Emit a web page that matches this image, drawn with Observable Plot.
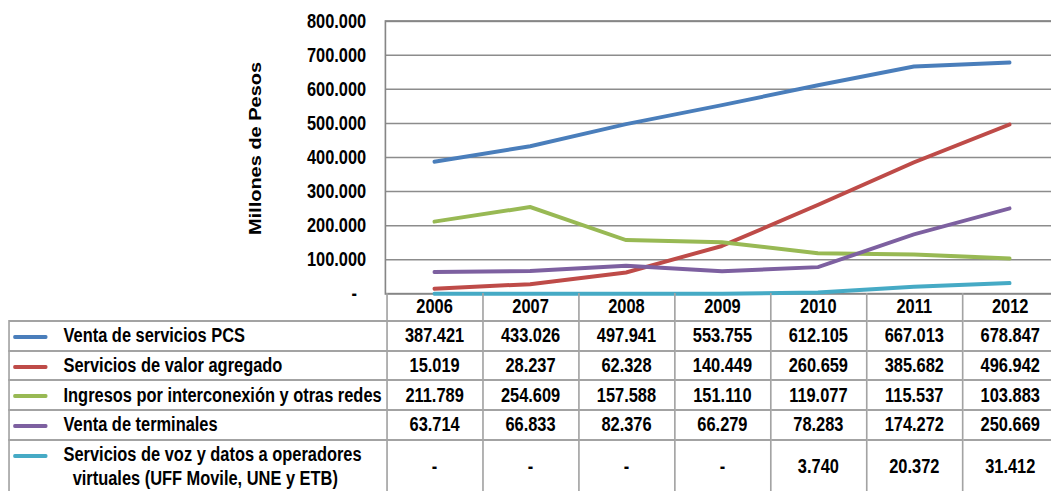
<!DOCTYPE html>
<html>
<head>
<meta charset="utf-8">
<script src="https://cdn.jsdelivr.net/npm/d3@7"></script>
<script src="https://cdn.jsdelivr.net/npm/@observablehq/plot@0.6"></script>
<style>
html, body { margin: 0; padding: 0; background: #fff; overflow: hidden; width: 1051px; height: 491px; }
#wrap { position: absolute; left: 0; top: 0; width: 1292px; height: 491px; transform: scaleX(0.82); transform-origin: 0 0;
  font-family: "Liberation Sans", Arial, sans-serif; font-weight: bold; font-size: 20px; color: #000; }
#chart { position: absolute; left: 0; top: 0; }
#tbl { position: absolute; top: 293px; border-collapse: collapse; table-layout: fixed; }
#tbl td { border: 2px solid #a3a3a3; padding: 0; text-align: center; vertical-align: middle; white-space: pre; line-height: 23.3px; }
#tbl tr.hdr td { border-top: none; height: 27px; }
#tbl tr.hdr td.blank { border-left: none; border-top: none; }
#tbl td.lab { text-align: left; position: relative; }
#tbl .sw { position: absolute; left: 4px; top: 13px; width: 42px; height: 4px; border-radius: 2px; }
</style>
</head>
<body>
<div id="wrap"><div id="chart"></div></div>
<script>
const years = ["2006", "2007", "2008", "2009", "2010", "2011", "2012"];
const seriesNames = [
  "Venta de servicios PCS",
  "Servicios de valor agregado",
  "Ingresos por interconexión y otras redes",
  "Venta de terminales",
  "Servicios de voz y datos a operadores\n  virtuales (UFF Movile, UNE y ETB)"
];
const ventaPCS = [387421, 433026, 497941, 553755, 612105, 667013, 678847];
const valorAgregado = [15019, 28237, 62328, 140449, 260659, 385682, 496942];
const interconexion = [211789, 254609, 157588, 151110, 119077, 115537, 103883];
const terminales = [63714, 66833, 82376, 66279, 78283, 174272, 250669];
const operadoresVirtuales = [0, 0, 0, 0, 3740, 20372, 31412];
const seriesColors = ["#4A7EBB", "#BE4B48", "#98B954", "#7D60A0", "#46AAC5"];
const yTicks = [0, 100000, 200000, 300000, 400000, 500000, 600000, 700000, 800000];
const yTitle = "Millones de Pesos";

const seriesValues = [ventaPCS, valorAgregado, interconexion, terminales, operadoresVirtuales];
const data = seriesNames.flatMap((s, i) => years.map((yr, j) => ({series: s, year: yr, value: seriesValues[i][j]})));

const locale = d3.formatLocale({decimal: ",", thousands: ".", grouping: [3], currency: ["$", ""]});
const fmtN = locale.format(",d");
const fmt = v => v === 0 ? "-" : fmtN(v);
const tickFmt = v => v === 0 ? "-\u00a0\u00a0" : fmtN(v);

const FONT = '"Liberation Sans", Arial, sans-serif';
const chart = Plot.plot({
  width: 1291, height: 322,
  marginLeft: 469.5, marginRight: 0, marginTop: 20.7, marginBottom: 28.7,
  style: {background: "transparent", fontFamily: FONT, fontSize: "20px", fontWeight: "bold", color: "#000", overflow: "visible"},
  x: {type: "point", domain: years, padding: 0.5, axis: null},
  y: {domain: [0, 800000], axis: null},
  color: {domain: seriesNames, range: seriesColors},
  marks: [
    Plot.gridY(yTicks.filter(v => v > 0), {stroke: "#8c8c8c", strokeOpacity: 1, strokeWidth: 1.5}),
    Plot.frame({stroke: "#868686", strokeWidth: 2}),
    Plot.axisY(yTicks, {tickSize: 0, tickPadding: 23.5, tickFormat: tickFmt, label: null, fill: "#000", fontSize: 20, fontWeight: "bold"}),
    Plot.text([yTitle], {frameAnchor: "left", rotate: -90, dx: -158.5, dy: -9, textAnchor: "middle", lineAnchor: "middle", fontSize: 20, fontWeight: "bold", fill: "#000"}),
    Plot.line(data, {x: "year", y: "value", z: "series", stroke: "series", strokeWidth: 4, strokeLinecap: "round", strokeLinejoin: "round"})
  ]
});
document.getElementById("chart").appendChild(chart);

// Data table below the plot, columns aligned with the plot's x scale
const xs = chart.scale("x");
const step = xs.apply(years[1]) - xs.apply(years[0]);
const colStart = xs.apply(years[0]) - step / 2;
const tableLeft = 9.5;
const firstCol = colStart - tableLeft;

const tbl = document.createElement("table");
tbl.id = "tbl";
tbl.style.left = tableLeft + "px";
tbl.style.width = (firstCol + step * years.length) + "px";
const cg = document.createElement("colgroup");
[firstCol, ...years.map(() => step)].forEach(w => { const c = document.createElement("col"); c.style.width = w + "px"; cg.appendChild(c); });
tbl.appendChild(cg);

const hdr = document.createElement("tr");
hdr.className = "hdr";
const blank = document.createElement("td"); blank.className = "blank"; hdr.appendChild(blank);
years.forEach(yr => { const td = document.createElement("td"); td.textContent = yr; hdr.appendChild(td); });
tbl.appendChild(hdr);

seriesNames.forEach((s, i) => {
  const tr = document.createElement("tr");
  const lab = document.createElement("td");
  lab.className = "lab";
  lab.style.paddingLeft = "66px";
  lab.style.height = (i === seriesNames.length - 1 ? 52 : 27.7) + "px";
  const sw = document.createElement("span");
  sw.className = "sw";
  sw.style.background = chart.scale("color").apply(s);
  lab.appendChild(sw);
  lab.appendChild(document.createTextNode(s));
  tr.appendChild(lab);
  seriesValues[i].forEach(v => { const td = document.createElement("td"); td.textContent = fmt(v); tr.appendChild(td); });
  tbl.appendChild(tr);
});
document.getElementById("wrap").appendChild(tbl);
</script>
</body>
</html>
